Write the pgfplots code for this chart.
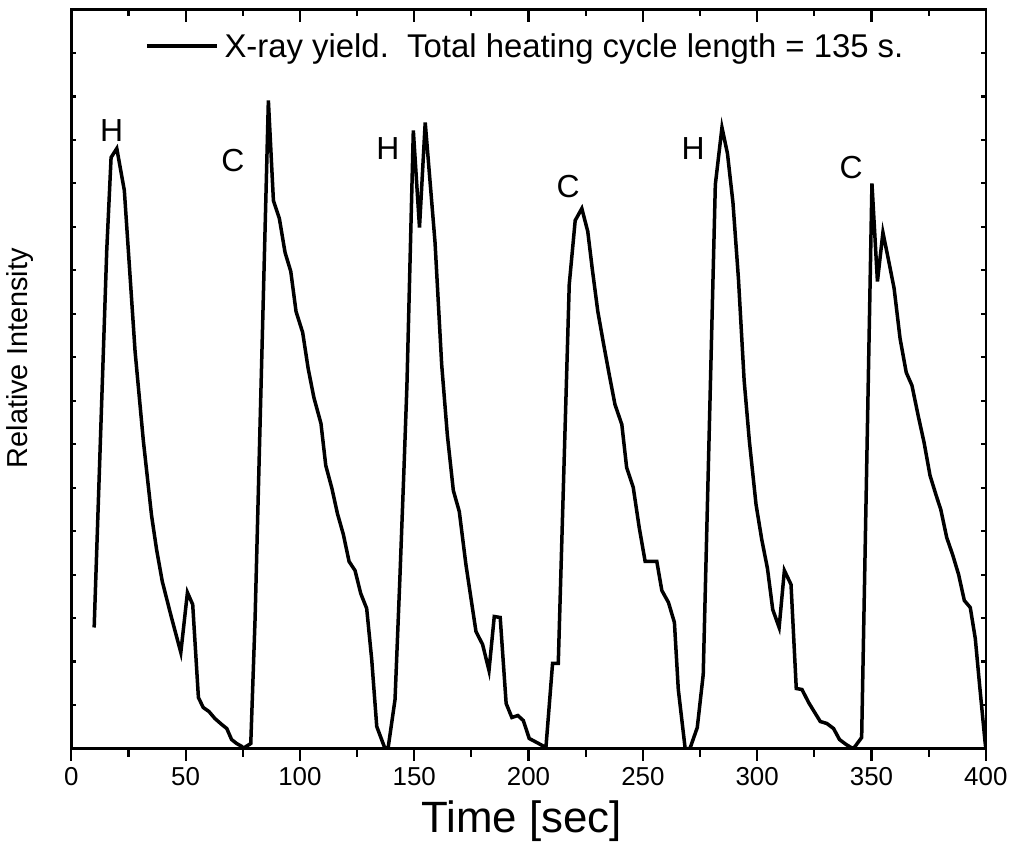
\documentclass[border=0pt]{standalone}
\usepackage{fontspec}
\setmainfont{Liberation Sans}
\usepackage{pgfplots}
\usepackage{pgfplotstable}
\pgfplotsset{compat=1.18}

\pgfplotstableread{
x y
10.0 121
15.5 498
17.4 591
19.9 600
23.2 558
27.9 397
31.5 308
35.1 233
37.3 199
39.8 167
43.7 132
47.9 96
50.8 156
53.1 144
55.6 51
57.7 41
60.2 37
62.8 30
65.8 24
68.0 20
70.1 9
72.3 5
74.6 2
75.1 0
78.5 5
80.4 131
86.2 648
88.4 548
91.0 530
93.5 496
96.0 477
98.3 437
101.2 416
103.6 380
106.1 351
109.2 325
111.3 283
114.0 260
116.4 235
119.0 214
121.5 187
124.1 178
126.6 155
129.2 140
131.4 89
133.6 22
137.2 0
138.6 1
141.6 49
143.7 169
145.5 279
146.8 363
149.6 618
152.3 521
154.8 626
159.1 506
162.0 384
164.5 313
167.1 258
169.7 237
172.6 184
177.0 117
179.9 104
182.7 78
185.0 132
187.6 131
190.2 45
192.7 31
195.3 33
197.7 28
200.3 10
203.6 6
207.6 1
210.5 85
213.0 85
217.8 464
220.4 528
223.3 540
225.9 517
227.9 479
230.3 437
232.7 406
235.2 375
237.8 344
240.8 324
242.9 281
245.8 261
248.4 221
251.0 187
256.1 187
258.3 158
261.2 146
263.8 126
265.5 59
268.5 0
270.6 0
273.8 21
276.4 74
281.7 564
284.6 621
287.0 595
289.4 546
291.8 470
294.3 368
296.6 307
299.5 244
302.0 209
304.5 180
306.8 139
309.6 121
311.9 178
314.8 164
317.1 60
319.6 59
322.5 46
324.9 37
327.6 27
330.5 25
333.4 20
336.0 9
338.9 4
341.8 0
342.8 2
345.7 11
350.2 565
352.6 467
355.0 516
357.4 489
359.9 460
362.5 410
365.2 376
367.7 363
370.5 332
373.0 306
375.6 273
378.3 253
380.3 239
382.9 211
385.6 193
388.1 174
390.6 148
393.2 141
395.4 110
397.3 63
399.7 6
400.0 0
}\datatable

\pgfplotsset{
  base/.style={
    width=914.5bp, height=739bp, scale only axis,
    at={(0,0)}, anchor=south west,
    xmin=0, xmax=400, ymin=0, ymax=739,
    axis line style={line width=2.6bp, black},
    every tick/.style={line width=2.2bp, black},
    every minor tick/.style={line width=2.2bp, black},
  }
}

\begin{document}
\begin{tikzpicture}
\path[use as bounding box] (-71.3bp,-107.5bp) rectangle (941.7bp,748.5bp);

% main axis: data, bottom ticks outward with labels
\begin{axis}[base,
  xtick={0,50,...,400},
  minor xtick={25,75,...,375},
  xtick pos=bottom,
  tick align=outside,
  ytick=\empty,
  major tick length=12bp,
  minor tick length=8bp,
  /pgf/number format/assume math mode=true,
  xticklabel style={font=\fontsize{26}{30}\selectfont, yshift=-3bp},
  xlabel={Time [sec]},
  xlabel style={font=\fontsize{44}{50}\selectfont, at={(axis description cs:0.4926,-0.1143)}, anchor=base},
  ylabel={Relative Intensity},
  ylabel style={font=\fontsize{29}{34}\selectfont, at={(axis description cs:-0.0563,0.528)}, anchor=center, rotate=0},
  legend style={draw=none, fill=none, at={(axis description cs:0.0804,0.9506)}, anchor=west,
    font=\fontsize{33}{39}\selectfont, inner sep=0pt, nodes={inner sep=0pt},
    /tikz/every odd column/.append style={column sep=6bp}},
  legend image code/.code={\draw[#1] (0bp,0bp) -- (70bp,0bp);},
]
\addplot[black, line width=3.5bp] table[x=x, y=y] {\datatable};
\addlegendentry{X-ray yield.\ \ Total heating cycle length = 135 s.}

\node[font=\fontsize{32}{38}\selectfont, anchor=center] at (axis cs:17.6,618) {H};
\node[font=\fontsize{32}{38}\selectfont, anchor=center] at (axis cs:70.7,588) {C};
\node[font=\fontsize{32}{38}\selectfont, anchor=center] at (axis cs:138.5,600) {H};
\node[font=\fontsize{32}{38}\selectfont, anchor=center] at (axis cs:217.3,562) {C};
\node[font=\fontsize{32}{38}\selectfont, anchor=center] at (axis cs:272.0,600) {H};
\node[font=\fontsize{32}{38}\selectfont, anchor=center] at (axis cs:341.1,581) {C};
\end{axis}

% top ticks inward
\begin{axis}[base,
  xtick={0,50,...,400},
  minor xtick={25,75,...,375},
  xtick pos=top,
  tick align=inside,
  xticklabels={},
  ytick=\empty,
  major tick length=13bp,
  minor tick length=7bp,
]
\end{axis}

% y ticks inward on both sides
\begin{axis}[base,
  xtick=\empty,
  ytick={0,43.47,...,739},
  yticklabels={},
  ytick pos=both,
  tick align=inside,
  major tick length=4.5bp,
]
\end{axis}
\end{tikzpicture}
\end{document}
